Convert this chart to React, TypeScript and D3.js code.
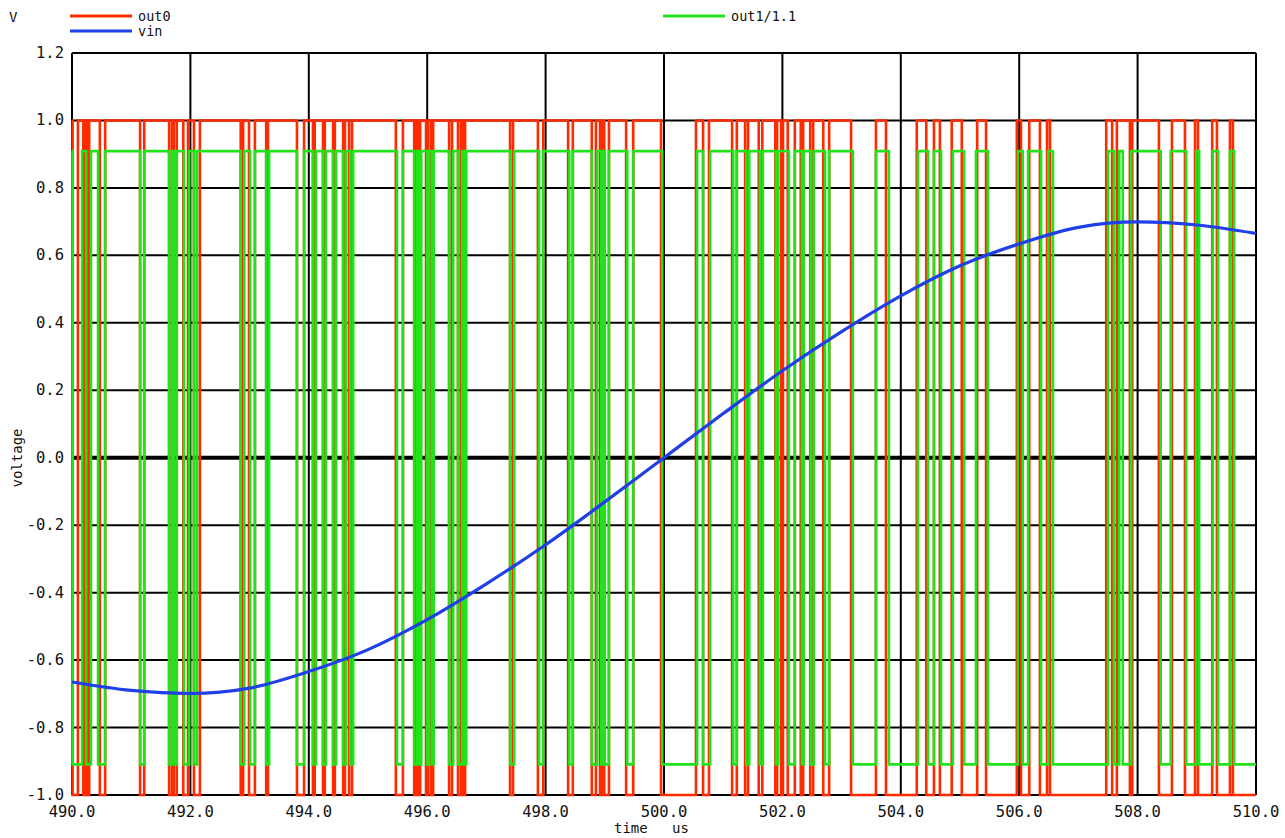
import React, { useEffect, useRef } from 'react';
import * as d3 from 'd3';

// time axis (us) and voltage axis ticks
const xTicks = [490, 492, 494, 496, 498, 500, 502, 504, 506, 508, 510];
const yTicks = [-1.0, -0.8, -0.6, -0.4, -0.2, 0.0, 0.2, 0.4, 0.6, 0.8, 1.0, 1.2];

// vin, read every 1 us
const vinTime = [490, 491, 492, 493, 494, 495, 496, 497, 498, 499, 500, 501, 502, 503, 504, 505, 506, 507, 508, 509, 510];
const vinVolt = [-0.665, -0.69, -0.699, -0.683, -0.634, -0.569, -0.48, -0.374, -0.258, -0.131, 0.0, 0.131, 0.258, 0.374, 0.48, 0.569, 0.634, 0.683, 0.699, 0.69, 0.665];

// out0: starts high (1.0), toggles at each time below
const out0Start = 1.0;
const out0Edges = [
  490.01, 490.10, 490.19, 490.22, 490.25, 490.29, 490.47, 490.56, 491.15, 491.22,
  491.64, 491.69, 491.72, 491.77, 491.88, 491.96, 492.06, 492.16, 492.85, 492.89,
  492.99, 493.09, 493.28, 493.31, 493.80, 493.92, 494.07, 494.10, 494.24, 494.27,
  494.41, 494.44, 494.58, 494.61, 494.68, 494.73, 495.47, 495.59, 495.78, 495.81,
  495.84, 495.88, 495.98, 496.01, 496.06, 496.10, 496.37, 496.42, 496.52, 496.57,
  496.60, 496.64, 497.40, 497.45, 497.87, 497.96, 498.38, 498.46, 498.78, 498.85,
  498.92, 498.95, 498.99, 499.07, 499.36, 499.48, 499.95, 500.54, 500.66, 500.76,
  501.15, 501.23, 501.37, 501.42, 501.60, 501.66, 501.88, 501.91, 501.98, 502.01,
  502.09, 502.21, 502.31, 502.35, 502.47, 502.52, 502.69, 502.79, 503.16, 503.58,
  503.75, 504.27, 504.43, 504.56, 504.66, 504.86, 505.03, 505.29, 505.44, 505.96,
  506.03, 506.17, 506.35, 506.47, 506.52, 507.47, 507.57, 507.65, 507.87, 507.91,
  508.36, 508.58, 508.80, 508.97, 509.02, 509.26, 509.34, 509.56, 509.61
];

// out1/1.1: starts high (1/1.1), toggles at each time below
const out1Start = 1 / 1.1;
const out1Edges = [
  490.01, 490.17, 490.24, 490.32, 490.44, 490.56, 491.15, 491.22, 491.64, 491.69,
  491.72, 491.77, 491.89, 491.98, 492.06, 492.11, 492.85, 492.91, 493.01, 493.09,
  493.28, 493.33, 493.80, 493.92, 494.07, 494.12, 494.24, 494.29, 494.41, 494.46,
  494.58, 494.63, 494.70, 494.75, 495.49, 495.59, 495.78, 495.83, 495.86, 495.90,
  496.00, 496.03, 496.08, 496.11, 496.37, 496.44, 496.52, 496.59, 496.62, 496.66,
  497.40, 497.47, 497.89, 497.96, 498.40, 498.46, 498.78, 498.87, 498.94, 498.97,
  499.00, 499.07, 499.38, 499.48, 499.97, 500.56, 500.66, 500.78, 501.17, 501.23,
  501.39, 501.44, 501.62, 501.67, 501.89, 501.93, 502.11, 502.21, 502.33, 502.36,
  502.48, 502.53, 502.72, 502.79, 503.19, 503.58, 503.80, 504.29, 504.46, 504.56,
  504.68, 504.88, 505.07, 505.27, 505.47, 505.98, 506.06, 506.15, 506.37, 506.49,
  506.57, 507.50, 507.60, 507.69, 507.75, 507.89, 508.39, 508.56, 508.82, 508.99,
  509.04, 509.27, 509.36, 509.56, 509.63
];

const W = 1285;
const H = 838;
const FONT = '"DejaVu Sans Mono", monospace';
const RED = '#ff2a00';
const GREEN = '#22e21c';
const BLUE = '#1f3fe8';

function stepPoints(start: number, edges: number[]): [number, number][] {
  const pts: [number, number][] = [[490, start]];
  let lvl = start;
  edges.forEach((t) => {
    lvl = -lvl;
    pts.push([t, lvl]);
  });
  pts.push([510, lvl]);
  return pts;
}

const App = () => {
  const ref = useRef<SVGSVGElement>(null);

  useEffect(() => {
    const svg = d3.select(ref.current);
    svg.selectAll('*').remove();

    const x = d3.scaleLinear().domain([490, 510]).range([72, 1256]);
    const y = d3.scaleLinear().domain([-1.0, 1.2]).range([795, 53]);

    // grid
    const grid = svg.append('g');
    grid.selectAll('line.h')
      .data(yTicks)
      .join('line')
      .attr('class', 'h')
      .attr('x1', x(490)).attr('x2', x(510))
      .attr('y1', (d) => y(d)).attr('y2', (d) => y(d))
      .attr('stroke', '#000')
      .attr('stroke-width', (d) => (Math.abs(d) < 1e-9 ? 4 : 2));
    grid.selectAll('line.v')
      .data(xTicks)
      .join('line')
      .attr('class', 'v')
      .attr('x1', (d) => x(d)).attr('x2', (d) => x(d))
      .attr('y1', y(1.2)).attr('y2', y(-1.0))
      .attr('stroke', '#000')
      .attr('stroke-width', 2);

    const line = d3.line<[number, number]>()
      .x((d) => x(d[0]))
      .y((d) => y(d[1]));

    svg.append('path')
      .attr('d', line.curve(d3.curveStepAfter)(stepPoints(out0Start, out0Edges)))
      .attr('fill', 'none')
      .attr('stroke', RED)
      .attr('stroke-width', 2.6);

    svg.append('path')
      .attr('d', line.curve(d3.curveStepAfter)(stepPoints(out1Start, out1Edges)))
      .attr('fill', 'none')
      .attr('stroke', GREEN)
      .attr('stroke-width', 2.6);

    const vinPts = vinTime.map((t, i) => [t, vinVolt[i]] as [number, number]);
    svg.append('path')
      .attr('d', line.curve(d3.curveMonotoneX)(vinPts))
      .attr('fill', 'none')
      .attr('stroke', BLUE)
      .attr('stroke-width', 3.2);

    // tick labels
    svg.selectAll('text.yt')
      .data(yTicks)
      .join('text')
      .attr('class', 'yt')
      .attr('x', 64)
      .attr('y', (d) => y(d) + 5)
      .attr('text-anchor', 'end')
      .attr('font-family', FONT)
      .attr('font-size', 15.5)
      .attr('fill', '#111')
      .text((d) => d.toFixed(1));

    svg.selectAll('text.xt')
      .data(xTicks)
      .join('text')
      .attr('class', 'xt')
      .attr('x', (d) => x(d))
      .attr('y', 817)
      .attr('text-anchor', 'middle')
      .attr('font-family', FONT)
      .attr('font-size', 15.5)
      .attr('fill', '#111')
      .text((d) => d.toFixed(1));

    svg.append('text')
      .attr('x', 614).attr('y', 833)
      .attr('font-family', FONT).attr('font-size', 14).attr('fill', '#111')
      .text('time');
    svg.append('text')
      .attr('x', 672).attr('y', 833)
      .attr('font-family', FONT).attr('font-size', 14).attr('fill', '#111')
      .text('us');

    svg.append('text')
      .attr('transform', 'translate(22,458) rotate(-90)')
      .attr('text-anchor', 'middle')
      .attr('font-family', FONT).attr('font-size', 14).attr('fill', '#111')
      .text('voltage');

    svg.append('text')
      .attr('x', 9).attr('y', 22)
      .attr('font-family', FONT).attr('font-size', 14).attr('fill', '#111')
      .text('V');

    // legend
    const legend = [
      { name: 'out0', color: RED, lx: 70, ly: 16 },
      { name: 'vin', color: BLUE, lx: 70, ly: 31 },
      { name: 'out1/1.1', color: GREEN, lx: 663, ly: 16 },
    ];
    legend.forEach((l) => {
      svg.append('line')
        .attr('x1', l.lx).attr('x2', l.lx + 62)
        .attr('y1', l.ly).attr('y2', l.ly)
        .attr('stroke', l.color).attr('stroke-width', 3);
      svg.append('text')
        .attr('x', l.lx + 68).attr('y', l.ly + 5)
        .attr('font-family', FONT).attr('font-size', 13.5).attr('fill', '#111')
        .text(l.name);
    });
  }, []);

  return (
    <svg
      ref={ref}
      width={W}
      height={H}
      style={{ position: 'absolute', left: 0, top: 0, background: '#fff' }}
    />
  );
};

export default App;
